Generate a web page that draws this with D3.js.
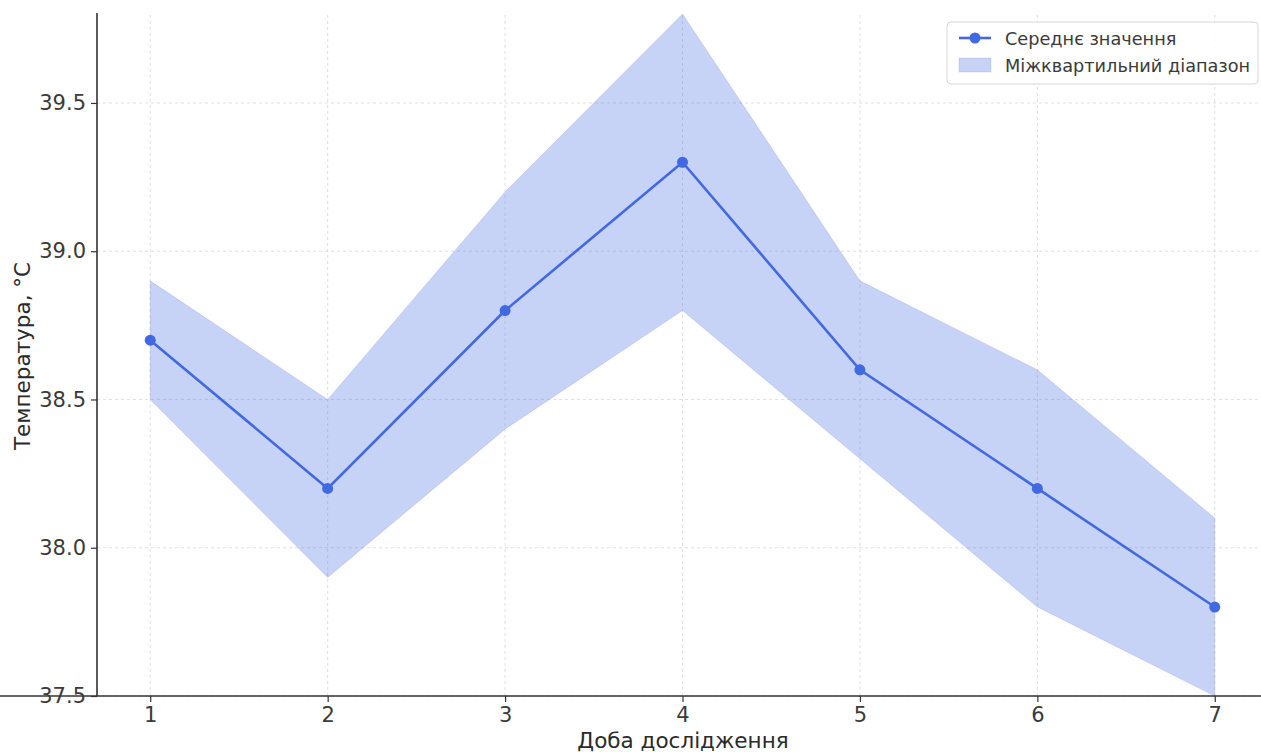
<!DOCTYPE html>
<html>
<head>
<meta charset="utf-8">
<script src="https://cdn.jsdelivr.net/npm/d3@7"></script>
<style>
  body { margin: 0; background: #fff; }
  svg { display: block; font-family: "DejaVu Sans", sans-serif; }
</style>
</head>
<body>
<div id="chart"></div>
<script>
const days = [1, 2, 3, 4, 5, 6, 7];
const meanValues = [38.7, 38.2, 38.8, 39.3, 38.6, 38.2, 37.8];
const upperQ = [38.9, 38.5, 39.2, 39.8, 38.9, 38.6, 38.1];
const lowerQ = [38.5, 37.9, 38.4, 38.8, 38.3, 37.8, 37.5];
const yTicks = [37.5, 38.0, 38.5, 39.0, 39.5];

const width = 1261, height = 752;
const margin = { top: 14, right: -7, bottom: 56, left: 97 };
const color = '#4169e1';

const svg = d3.select('#chart').append('svg')
  .attr('width', width)
  .attr('height', height);

const x = d3.scaleLinear()
  .domain([0.7, 7.3])
  .range([margin.left, width - margin.right]);

const y = d3.scaleLinear()
  .domain([37.5, 39.8])
  .range([height - margin.bottom, margin.top]);

// grid
const grid = svg.append('g')
  .attr('stroke', '#d8d8d8')
  .attr('stroke-width', 0.8)
  .attr('stroke-dasharray', '3,3');

grid.selectAll('.gx').data(days).join('line')
  .attr('x1', d => x(d)).attr('x2', d => x(d))
  .attr('y1', y(37.5)).attr('y2', margin.top);

grid.selectAll('.gy').data(yTicks).join('line')
  .attr('x1', margin.left).attr('x2', width)
  .attr('y1', d => y(d)).attr('y2', d => y(d));

// band
const rows = days.map((d, i) => ({ day: d, mean: meanValues[i], lo: lowerQ[i], hi: upperQ[i] }));

svg.append('path')
  .datum(rows)
  .attr('fill', color)
  .attr('fill-opacity', 0.3)
  .attr('stroke', color)
  .attr('stroke-opacity', 0.15)
  .attr('d', d3.area()
    .x(d => x(d.day))
    .y0(d => y(d.lo))
    .y1(d => y(d.hi)));

// mean line
svg.append('path')
  .datum(rows)
  .attr('fill', 'none')
  .attr('stroke', color)
  .attr('stroke-width', 2.6)
  .attr('d', d3.line().x(d => x(d.day)).y(d => y(d.mean)));

svg.selectAll('.pt').data(rows).join('circle')
  .attr('cx', d => x(d.day))
  .attr('cy', d => y(d.mean))
  .attr('r', 5.5)
  .attr('fill', color);

// axes
const xAxis = svg.append('g')
  .attr('transform', `translate(0,${y(37.5)})`)
  .call(d3.axisBottom(x).tickValues(days).tickFormat(d3.format('d')).tickSizeOuter(0).tickSize(6).tickPadding(5));

const yAxis = svg.append('g')
  .attr('transform', `translate(${margin.left},0)`)
  .call(d3.axisLeft(y).tickValues(yTicks).tickFormat(d3.format('.1f')).tickSizeOuter(0).tickSize(6).tickPadding(5));

[xAxis, yAxis].forEach(a => {
  a.select('.domain').attr('stroke', '#333').attr('stroke-width', 1.6);
  a.selectAll('.tick line').attr('stroke', '#333').attr('stroke-width', 1.2);
  a.selectAll('.tick text')
    .attr('fill', '#3a3a3a')
    .style('font-size', '21px')
    .style('font-family', '"DejaVu Sans", sans-serif');
});
yAxis.select('.domain').attr('d', `M0,${y(37.5)}V${margin.top - 1}`);
xAxis.select('.domain').attr('d', `M0,0H${width}`);

// axis labels
svg.append('text')
  .attr('x', 683)
  .attr('y', 748)
  .attr('text-anchor', 'middle')
  .attr('fill', '#2a2a2a')
  .style('font-size', '21.5px')
  .text('Доба дослідження');

svg.append('text')
  .attr('transform', `translate(30,356) rotate(-90)`)
  .attr('text-anchor', 'middle')
  .attr('fill', '#2a2a2a')
  .style('font-size', '21.5px')
  .text('Температура, °C');

// legend
const legend = svg.append('g').attr('transform', 'translate(947,22)');
legend.append('rect')
  .attr('width', 311).attr('height', 62)
  .attr('rx', 4)
  .attr('fill', '#fff')
  .attr('fill-opacity', 0.85)
  .attr('stroke', '#d6d6d6');

legend.append('line')
  .attr('x1', 12).attr('x2', 44)
  .attr('y1', 16).attr('y2', 16)
  .attr('stroke', color).attr('stroke-width', 2.6);
legend.append('circle')
  .attr('cx', 28).attr('cy', 16).attr('r', 5.5).attr('fill', color);
legend.append('rect')
  .attr('x', 12).attr('y', 36).attr('width', 32).attr('height', 14)
  .attr('fill', color).attr('fill-opacity', 0.3)
  .attr('stroke', color).attr('stroke-opacity', 0.15);

const legendLabels = ['Середнє значення', 'Міжквартильний діапазон'];
legend.selectAll('.lt').data(legendLabels).join('text')
  .attr('x', 58)
  .attr('y', (d, i) => 23 + i * 27)
  .attr('fill', '#3a3a3a')
  .style('font-size', '17.7px')
  .text(d => d);
</script>
</body>
</html>
